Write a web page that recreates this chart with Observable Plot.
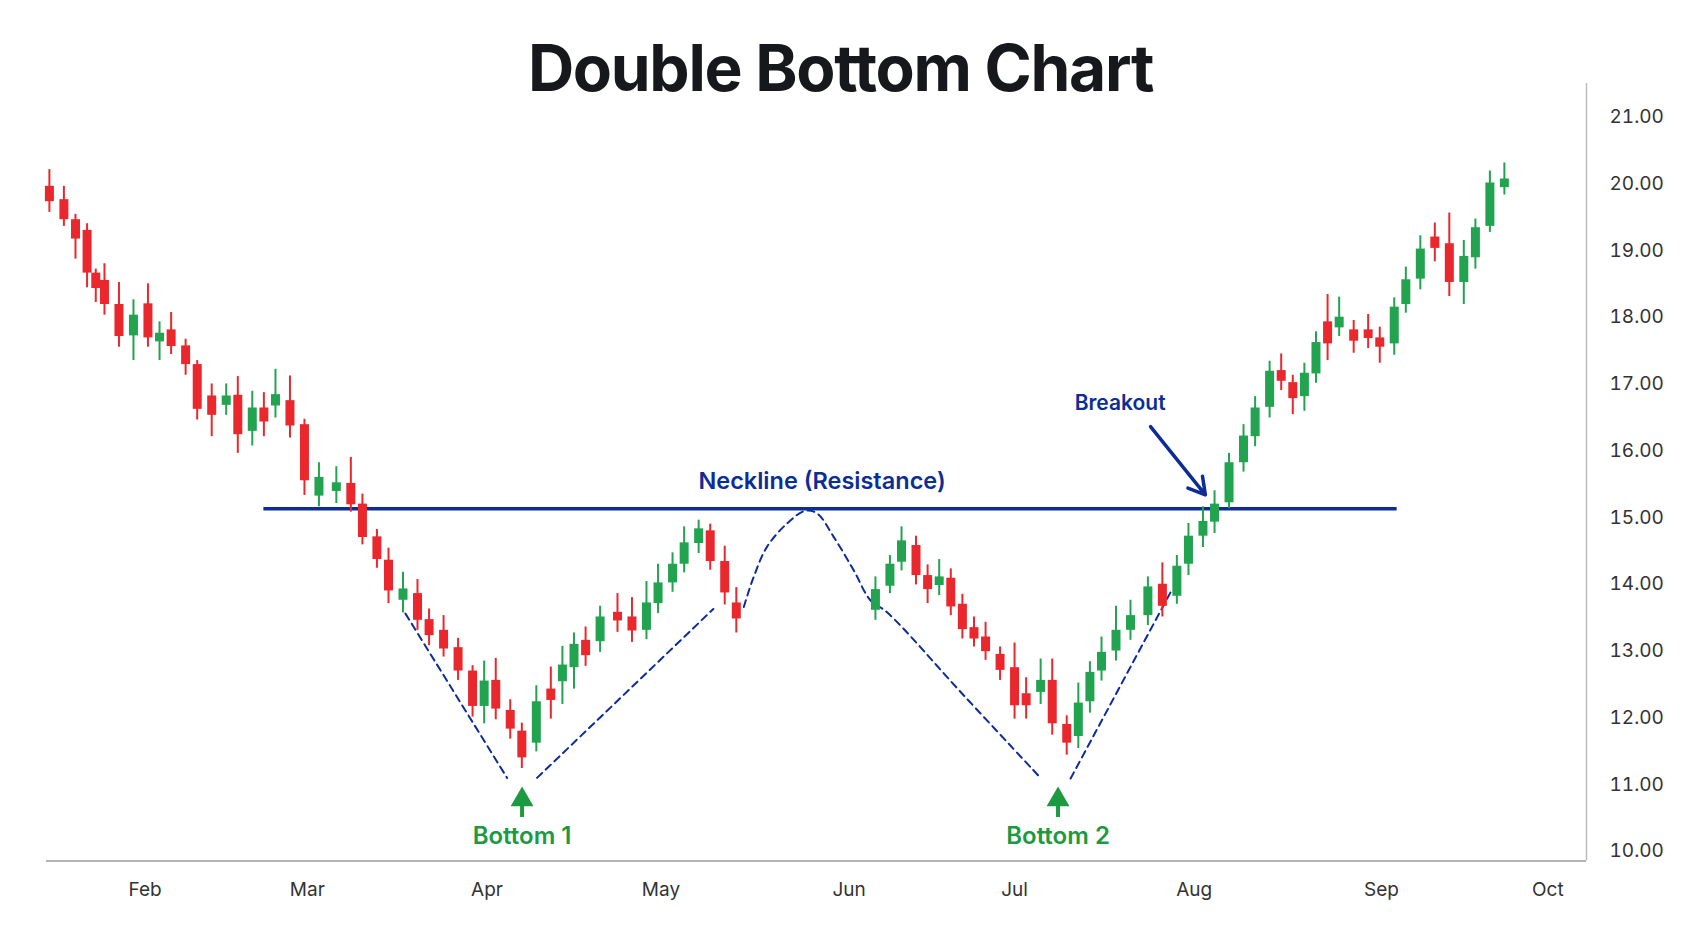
<!DOCTYPE html>
<html><head><meta charset="utf-8">
<script src="https://cdn.jsdelivr.net/npm/d3@7"></script>
<script src="https://cdn.jsdelivr.net/npm/@observablehq/plot@0.6"></script>
<style>
body{margin:0;background:#fff;}
#wrap{position:relative;width:1693px;height:929px;overflow:hidden;background:#fff;}
#title{position:absolute;left:-6px;top:36px;width:1693px;text-align:center;font-family:Inter,sans-serif;font-weight:700;font-size:64px;line-height:1;color:#17181c;letter-spacing:-1.3px;}
#chart{position:absolute;left:0;top:0;}
</style></head>
<body><div id="wrap"><div id="chart"></div><div id="title">Double Bottom Chart</div></div>
<script>
// ---- candle data ----
const dates = [
"2023-01-15T12:00Z","2023-01-18","2023-01-20","2023-01-22","2023-01-23T12:00Z","2023-01-25","2023-01-27T12:00Z","2023-01-30","2023-02-01T12:00Z","2023-02-03T12:00Z",
"2023-02-05T12:00Z","2023-02-08","2023-02-10","2023-02-12T12:00Z","2023-02-15","2023-02-17","2023-02-19T12:00Z","2023-02-21T12:00Z","2023-02-23T12:00Z","2023-02-26",
"2023-02-28T12:00Z","2023-03-03","2023-03-06","2023-03-08T12:00Z","2023-03-10T12:00Z","2023-03-13","2023-03-15","2023-03-17T12:00Z","2023-03-20","2023-03-22",
"2023-03-24T12:00Z","2023-03-27","2023-03-29T12:00Z","2023-03-31T12:00Z","2023-04-02T12:00Z","2023-04-05","2023-04-07","2023-04-09T12:00Z","2023-04-12","2023-04-14",
"2023-04-16","2023-04-18","2023-04-20T12:00Z","2023-04-23T12:00Z","2023-04-26","2023-04-28T12:00Z","2023-04-30T12:00Z","2023-05-03","2023-05-05","2023-05-07T12:00Z",
"2023-05-09T12:00Z","2023-05-12","2023-05-14","2023-06-07","2023-06-09T12:00Z","2023-06-11T12:00Z","2023-06-14","2023-06-16","2023-06-18","2023-06-20",
"2023-06-22","2023-06-24","2023-06-26","2023-06-28T12:00Z","2023-07-01","2023-07-03","2023-07-05T12:00Z","2023-07-07T12:00Z","2023-07-10","2023-07-12",
"2023-07-14","2023-07-16","2023-07-18T12:00Z","2023-07-21","2023-07-24","2023-07-26T12:00Z","2023-07-29","2023-07-31","2023-08-02T12:00Z","2023-08-04T12:00Z",
"2023-08-07","2023-08-09T12:00Z","2023-08-11T12:00Z","2023-08-14","2023-08-16","2023-08-18","2023-08-20","2023-08-22","2023-08-24","2023-08-26",
"2023-08-28T12:00Z","2023-08-31","2023-09-02","2023-09-04T12:00Z","2023-09-06T12:00Z","2023-09-09","2023-09-11T12:00Z","2023-09-14","2023-09-16T12:00Z","2023-09-18T12:00Z",
"2023-09-21","2023-09-23T12:00Z"];
const opens = [
19.96,19.76,19.46,19.30,18.66,18.55,18.19,17.72,18.20,17.63,
17.81,17.57,17.29,16.82,16.68,16.83,16.29,16.64,16.67,16.75,
16.39,15.32,15.39,15.51,15.20,14.71,14.36,13.76,13.86,13.47,
13.31,13.05,12.70,12.17,12.56,12.11,11.80,11.62,12.43,12.54,
12.75,13.16,13.14,13.58,13.51,13.31,13.71,14.02,14.30,14.61,
14.80,14.34,13.72,13.61,13.97,14.33,14.58,14.13,13.98,14.09,
13.70,13.35,13.21,12.95,12.75,12.36,12.38,12.56,11.90,11.72,
12.24,12.70,13.00,13.31,13.53,14.00,13.82,14.30,14.72,14.93,
15.22,15.82,16.21,16.65,17.20,17.02,16.81,17.15,17.93,17.84,
17.81,17.81,17.69,17.60,18.19,18.57,19.20,19.10,18.52,18.89,
19.36,19.94];
const highs = [
20.21,19.96,19.54,19.40,18.72,18.80,18.52,18.26,18.50,17.93,
18.07,17.67,17.35,17.00,17.00,17.11,16.89,16.87,17.22,17.12,
16.47,15.82,15.76,15.90,15.35,14.82,14.54,14.18,14.07,13.63,
13.53,13.19,12.78,12.85,12.89,12.27,11.92,12.48,12.76,13.07,
13.27,13.36,13.67,13.86,13.80,14.04,14.30,14.47,14.86,14.96,
14.90,14.57,13.95,14.11,14.43,14.86,14.72,14.29,14.37,14.23,
13.85,13.51,13.43,13.06,13.12,12.60,12.88,12.88,12.03,12.52,
12.84,13.21,13.67,13.76,14.11,14.32,14.43,14.91,15.16,15.40,
15.96,16.39,16.81,17.34,17.45,17.13,17.31,17.78,18.34,18.30,
17.95,18.04,17.85,18.29,18.75,19.22,19.41,19.56,19.15,19.47,
20.19,20.31];
const lows = [
19.57,19.36,18.87,18.44,18.22,18.03,17.55,17.35,17.55,17.35,
17.44,17.13,16.46,16.21,16.53,15.96,16.07,16.21,16.49,16.19,
15.33,15.16,15.21,15.08,14.59,14.24,13.71,13.57,13.31,13.08,
12.91,12.56,12.01,11.91,11.97,11.68,11.24,11.49,11.98,12.20,
12.43,12.77,12.98,13.28,13.13,13.17,13.56,13.88,14.17,14.46,
14.21,13.69,13.27,13.46,13.86,14.20,13.99,13.71,13.83,13.53,
13.18,13.06,12.86,12.56,11.98,11.98,12.20,11.74,11.44,11.54,
12.07,12.55,12.85,13.16,13.38,13.51,13.70,14.13,14.55,14.76,
15.13,15.68,16.06,16.49,16.90,16.54,16.59,17.01,17.35,17.71,
17.46,17.53,17.31,17.43,18.06,18.41,18.83,18.31,18.19,18.72,
19.27,19.83];
const closes = [
19.73,19.46,19.17,18.66,18.43,18.19,17.71,18.03,17.69,17.76,
17.56,17.29,16.62,16.53,16.82,16.24,16.64,16.43,16.84,16.37,
15.55,15.60,15.52,15.19,14.70,14.37,13.90,13.93,13.46,13.23,
13.03,12.70,12.17,12.55,12.13,11.83,11.40,12.24,12.26,12.79,
13.10,12.93,13.51,13.45,13.30,13.72,14.02,14.30,14.62,14.83,
14.34,13.87,13.48,13.92,14.30,14.65,14.13,13.92,14.11,13.66,
13.32,13.18,12.99,12.71,12.18,12.18,12.56,11.91,11.62,12.22,
12.68,12.98,13.31,13.53,13.96,13.67,14.27,14.72,14.94,15.20,
15.82,16.22,16.64,17.19,17.04,16.78,17.16,17.62,17.60,18.00,
17.64,17.68,17.55,18.15,18.56,19.02,19.03,18.52,18.91,19.34,
20.01,20.07];

// ---- axes ----
const xDomain = ["2023-01-15", "2023-10-07T16:00Z"];
const yDomain = [9.855, 21.5];
// month tick positions as placed in the picture
const monthTicks = ["2023-02-01","2023-03-01","2023-04-01","2023-05-01","2023-06-02T11:00Z","2023-07-01","2023-08-01","2023-09-02T07:00Z","2023-10-01"];
const yTicks = [10,11,12,13,14,15,16,17,18,19,20,21];

// ---- annotations ----
const necklineValue = 15.13;
const necklineSpan = ["2023-02-21T12:00Z", "2023-09-05T00:00Z"];
const guideSeg = ["A","A","B","B","C","C","C","C","C","C","C","C","C","C","C","C","D","D"];
const guideDates = ["2023-03-17T22:00Z","2023-04-04T11:00Z",
  "2023-04-09T15:00Z","2023-05-10T01:00Z",
  "2023-05-15T07:00Z","2023-05-17T00:00Z","2023-05-19T07:00Z","2023-05-22T18:00Z","2023-05-25T22:00Z","2023-05-27T23:00Z",
  "2023-05-30T19:00Z","2023-06-03T06:00Z","2023-06-06T03:00Z","2023-06-09T00:00Z","2023-06-22T07:00Z","2023-07-05T14:00Z",
  "2023-07-10T16:00Z","2023-07-27T22:00Z"];
const guideValues = [13.56,11.10, 11.10,13.63,
  13.66,14.11,14.56,14.91,15.10,15.06,14.71,14.21,13.76,13.58,12.33,11.09,
  11.09,13.88];
const bottomLabels = ["Bottom 1","Bottom 2"];
const bottomDates = ["2023-04-07T01:00Z","2023-07-08T12:00Z"];
const arrowShaft = [10.506, 10.79];
const arrowHeadValue = 10.773;
const bottomLabelValue = 10.222;
const breakoutArrow = {x1:"2023-07-24T11:00Z", y1:16.36, x2:"2023-08-02T22:00Z", y2:15.34};
const textLabels = ["Neckline (Resistance)", "Breakout"];
const textDates = ["2023-05-28T19:00Z", "2023-07-19T05:00Z"];
const textValues = [15.533, 16.713];

const RED = "#e9272c", GREEN = "#21a350", NAVY = "#0d2d96", LABEL_GREEN = "#1b9a42";
const P = s => new Date(s);

const candles = dates.map((d, i) => ({date: P(d), open: opens[i], high: highs[i], low: lows[i], close: closes[i]}));
const candleColor = d => d.close >= d.open ? GREEN : RED;
const guides = guideDates.map((d, i) => ({date: P(d), value: guideValues[i], seg: guideSeg[i]}));
const bottoms = bottomDates.map((d, i) => ({date: P(d), label: bottomLabels[i]}));
const texts = textDates.map((d, i) => ({date: P(d), value: textValues[i], label: textLabels[i]}));

const chart = Plot.plot({
  width: 1693, height: 929,
  marginTop: 83, marginBottom: 68.5, marginLeft: 46, marginRight: 107,
  style: {fontFamily: "Inter, sans-serif", fontSize: "19px", color: "#333", background: "transparent", overflow: "visible"},
  x: {type: "utc", domain: xDomain.map(P), ticks: monthTicks.map(P), tickFormat: d3.utcFormat("%b"), tickSize: 0, tickPadding: 21, label: null},
  y: {domain: yDomain, axis: "right", ticks: yTicks, tickFormat: d => d.toFixed(2), tickSize: 0, tickPadding: 23, label: null},
  marks: [
    Plot.ruleY([yDomain[0]], {stroke: "#b4b4b4", strokeWidth: 2}),
    Plot.ruleX([P(xDomain[1])], {stroke: "#bdbdbd", strokeWidth: 1.5}),
    Plot.line(guides, {x: "date", y: "value", z: "seg", stroke: NAVY, strokeWidth: 2, strokeDasharray: "7,5", curve: "catmull-rom"}),
    Plot.ruleY([necklineValue], {x1: P(necklineSpan[0]), x2: P(necklineSpan[1]), stroke: NAVY, strokeWidth: 3.5}),
    Plot.ruleX(candles, {x: "date", y1: "low", y2: "high", stroke: candleColor, strokeWidth: 2}),
    Plot.ruleX(candles, {x: "date", y1: "open", y2: "close", stroke: candleColor, strokeWidth: 9}),
    Plot.ruleX(bottoms, {x: "date", y1: arrowShaft[0], y2: arrowShaft[1], stroke: LABEL_GREEN, strokeWidth: 4}),
    Plot.dot(bottoms, {x: "date", y: arrowHeadValue, symbol: "triangle", r: 8.5, fill: LABEL_GREEN, stroke: "none"}),
    Plot.text(bottoms, {x: "date", y: bottomLabelValue, text: "label", fill: LABEL_GREEN, fontSize: 24, fontWeight: 600, fontFamily: "Inter, sans-serif"}),
    Plot.arrow([breakoutArrow], {x1: d => P(d.x1), y1: "y1", x2: d => P(d.x2), y2: "y2", stroke: NAVY, strokeWidth: 3.5, headLength: 8}),
    Plot.text(texts, {x: "date", y: "value", text: "label", fill: NAVY, fontSize: d => d.label === "Breakout" ? 21 : 23.5, fontWeight: 600, fontFamily: "Inter, sans-serif"})
  ]
});
document.getElementById("chart").appendChild(chart);
</script></body></html>
